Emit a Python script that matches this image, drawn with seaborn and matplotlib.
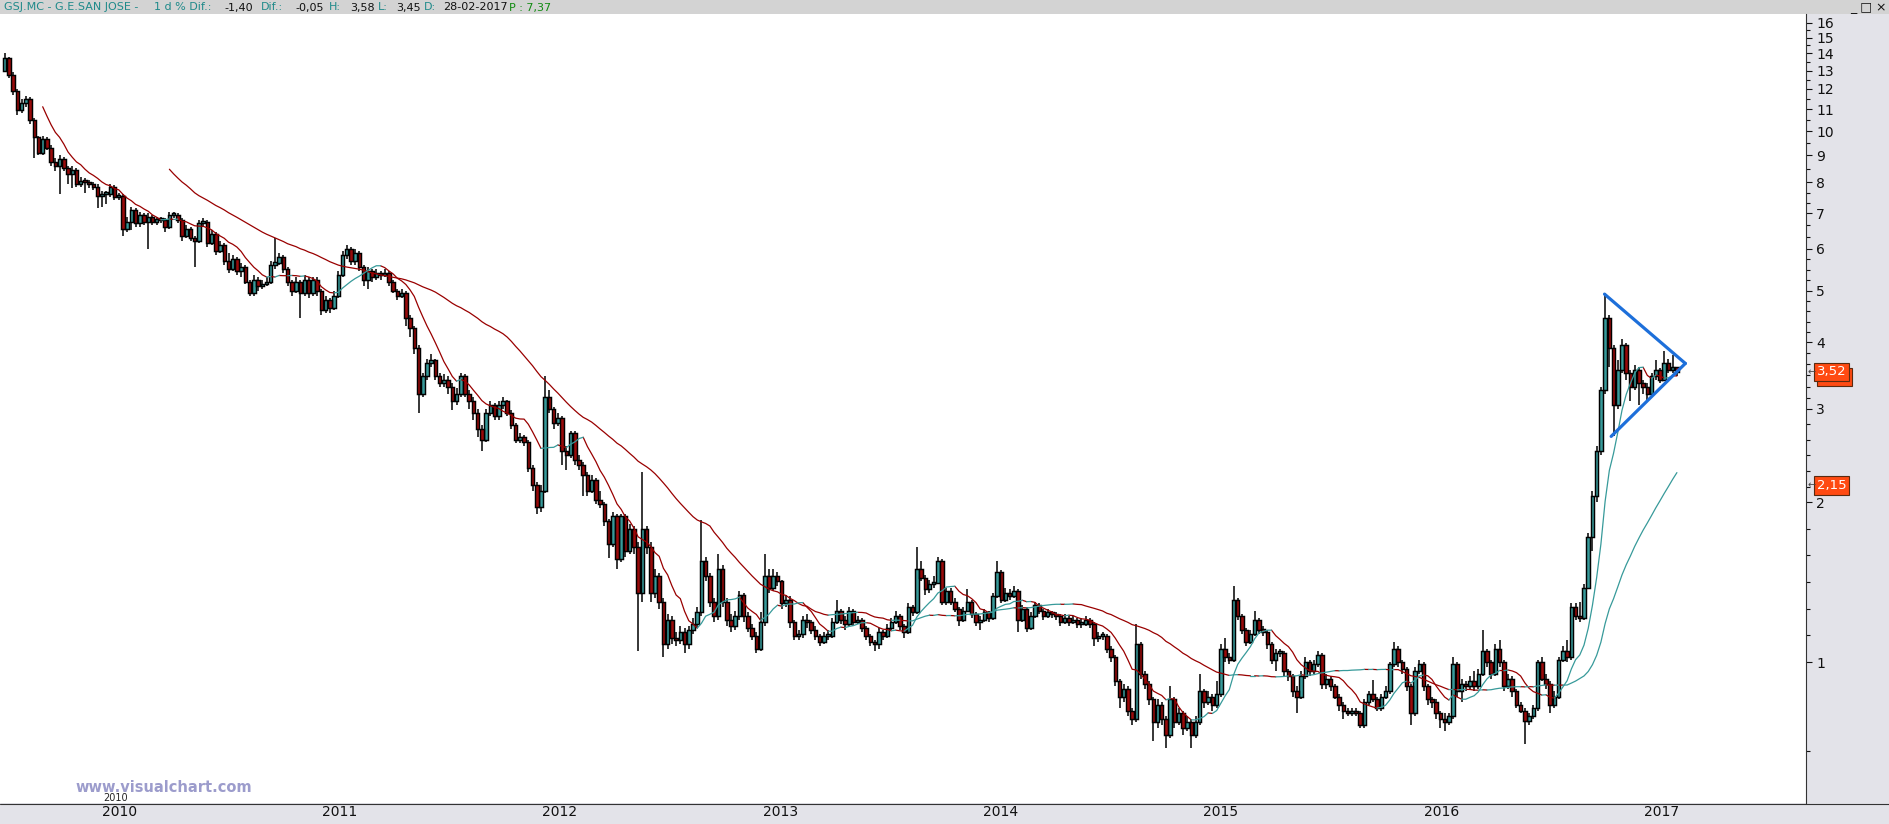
import numpy as np
import pandas as pd
import matplotlib
matplotlib.use("Agg")
import matplotlib.pyplot as plt
from matplotlib.lines import Line2D
from matplotlib.patches import Rectangle
from matplotlib.ticker import FixedLocator, FixedFormatter, NullFormatter
from matplotlib.transforms import blended_transform_factory, offset_copy
import seaborn as sns

# weekly candles of GSJ.MC (open = previous close)
first_open = 13.0
closes = [
    13.7, 12.75, 11.9, 10.95, 11.3, 11.5, 10.5, 9.75, 9.1, 9.65,
    9.3, 8.75, 8.6, 8.85, 8.5, 8.3, 8.45, 7.95, 8.05, 8.0,
    7.95, 7.85, 7.55, 7.6, 7.6, 7.85, 7.5, 7.55, 6.55, 6.75,
    7.1, 6.7, 6.95, 6.75, 6.9, 6.75, 6.8, 6.8, 6.6, 6.95,
    6.95, 6.8, 6.35, 6.55, 6.3, 6.2, 6.7, 6.75, 6.15, 6.4,
    5.95, 6.1, 5.7, 5.5, 5.75, 5.45, 5.55, 5.2, 4.95, 5.25,
    5.1, 5.15, 5.2, 5.6, 5.65, 5.8, 5.5, 5.2, 5.0, 5.2,
    4.95, 5.25, 4.95, 5.25, 5.0, 4.6, 4.8, 4.65, 4.9, 5.35,
    5.85, 6.0, 5.7, 5.9, 5.55, 5.25, 5.45, 5.3, 5.4, 5.35,
    5.4, 5.2, 5.0, 4.9, 4.95, 4.45, 4.25, 3.9, 3.2, 3.45,
    3.65, 3.7, 3.45, 3.35, 3.4, 3.3, 3.1, 3.2, 3.45, 3.2,
    3.1, 2.95, 2.75, 2.62, 2.95, 3.05, 2.9, 3.05, 3.1, 2.95,
    2.8, 2.62, 2.65, 2.6, 2.32, 2.15, 1.96, 2.1, 3.15, 3.0,
    2.82, 2.88, 2.5, 2.45, 2.7, 2.4, 2.35, 2.25, 2.1, 2.2,
    2.02, 1.98, 1.84, 1.67, 1.88, 1.56, 1.88, 1.62, 1.78, 1.65,
    1.35, 1.78, 1.65, 1.35, 1.45, 1.3, 1.08, 1.2, 1.11, 1.1,
    1.14, 1.08, 1.15, 1.18, 1.24, 1.55, 1.45, 1.3, 1.22, 1.5,
    1.3, 1.2, 1.17, 1.22, 1.34, 1.22, 1.16, 1.12, 1.06, 1.19,
    1.45, 1.38, 1.45, 1.42, 1.29, 1.31, 1.19, 1.12, 1.13, 1.2,
    1.19, 1.15, 1.12, 1.09, 1.12, 1.12, 1.19, 1.25, 1.2, 1.18,
    1.25, 1.19, 1.2, 1.16, 1.12, 1.09, 1.08, 1.14, 1.12, 1.16,
    1.19, 1.22, 1.17, 1.14, 1.27, 1.24, 1.5, 1.44, 1.37, 1.4,
    1.41, 1.55, 1.3, 1.36, 1.3, 1.26, 1.2, 1.25, 1.3, 1.23,
    1.19, 1.2, 1.24, 1.21, 1.33, 1.48, 1.31, 1.35, 1.33, 1.36,
    1.2, 1.26, 1.16, 1.22, 1.28, 1.25, 1.22, 1.24, 1.23, 1.22,
    1.19, 1.21, 1.19, 1.2, 1.18, 1.18, 1.2, 1.18, 1.11, 1.12,
    1.12, 1.06, 1.02, 0.92, 0.86, 0.89, 0.81, 0.78, 1.08, 0.95,
    0.91, 0.85, 0.77, 0.83, 0.78, 0.73, 0.85, 0.77, 0.8, 0.75,
    0.77, 0.73, 0.77, 0.88, 0.84, 0.86, 0.83, 0.87, 1.06, 1.02,
    1.01, 1.31, 1.22, 1.15, 1.09, 1.13, 1.2, 1.15, 1.14, 1.08,
    1.01, 1.04, 1.04, 0.96, 0.94, 0.88, 0.86, 0.94, 1.0, 0.96,
    0.99, 1.03, 0.91, 0.93, 0.9, 0.86, 0.83, 0.81, 0.8, 0.81,
    0.8, 0.76, 0.84, 0.87, 0.85, 0.82, 0.86, 0.88, 0.99, 1.06,
    1.0, 0.97, 0.9, 0.8, 0.96, 0.99, 0.9, 0.85, 0.84, 0.8,
    0.78, 0.77, 0.79, 0.99, 0.88, 0.91, 0.9, 0.92, 0.9, 0.95,
    1.05, 1.0, 0.95, 1.06, 1.0, 0.9, 0.93, 0.88, 0.83, 0.81,
    0.775, 0.79, 0.82, 1.0, 0.93, 0.91, 0.83, 0.86, 1.01, 1.05,
    1.02, 1.27, 1.22, 1.21, 1.38, 1.72, 2.05, 2.5, 3.25, 4.45,
    3.9, 3.05, 3.55, 3.95, 3.5, 3.3, 3.55, 3.35, 3.3, 3.2,
    3.45, 3.55, 3.4, 3.65, 3.55, 3.6, 3.52,
]
highs = [
    14.0, 13.8, 12.9, 12.0, 11.5, 11.65, 11.6, 10.6, 9.8, 9.8,
    9.75, 9.4, 8.9, 9.0, 8.95, 8.6, 8.6, 8.5, 8.2, 8.15,
    8.1, 8.0, 7.95, 7.7, 7.7, 7.95, 7.9, 7.65, 7.6, 6.9,
    7.2, 7.15, 7.05, 7.0, 7.0, 6.95, 6.9, 6.9, 6.85, 7.05,
    7.05, 7.0, 6.85, 6.65, 6.6, 6.35, 6.8, 6.85, 6.8, 6.5,
    6.45, 6.2, 6.15, 5.9, 5.85, 5.8, 5.65, 5.6, 5.25, 5.35,
    5.3, 5.25, 5.3, 5.7, 6.3, 5.9, 5.85, 5.55, 5.25, 5.3,
    5.25, 5.35, 5.3, 5.3, 5.3, 5.05, 4.9, 4.85, 5.0, 5.45,
    5.95, 6.1, 6.05, 6.0, 5.95, 5.6, 5.55, 5.5, 5.5, 5.45,
    5.5, 5.45, 5.25, 5.05, 5.05, 5.0, 4.5, 4.3, 3.95, 3.5,
    3.72, 3.8, 3.72, 3.5, 3.48, 3.45, 3.35, 3.28, 3.5, 3.48,
    3.25, 3.15, 3.0, 2.8, 3.0, 3.1, 3.08, 3.1, 3.15, 3.12,
    2.98, 2.82, 2.7, 2.68, 2.62, 2.35, 2.18, 2.15, 3.45, 3.25,
    3.02, 2.95, 2.9, 2.55, 2.72, 2.72, 2.45, 2.38, 2.28, 2.25,
    2.22, 2.1, 2.0, 1.86, 1.92, 1.9, 1.9, 1.9, 1.82, 1.8,
    1.68, 2.28, 1.8, 1.68, 1.5, 1.47, 1.32, 1.23, 1.22, 1.14,
    1.17, 1.16, 1.17, 1.21, 1.27, 1.85, 1.58, 1.47, 1.32, 1.6,
    1.52, 1.32, 1.23, 1.25, 1.36, 1.35, 1.24, 1.18, 1.14, 1.24,
    1.6, 1.5, 1.5, 1.48, 1.43, 1.34, 1.33, 1.2, 1.15, 1.22,
    1.23, 1.2, 1.17, 1.13, 1.14, 1.15, 1.21, 1.31, 1.26, 1.22,
    1.27, 1.26, 1.22, 1.21, 1.17, 1.13, 1.1, 1.16, 1.15, 1.18,
    1.21, 1.25, 1.23, 1.18, 1.29, 1.28, 1.65, 1.55, 1.46, 1.43,
    1.45, 1.58, 1.56, 1.38, 1.38, 1.32, 1.27, 1.27, 1.37, 1.31,
    1.24, 1.22, 1.26, 1.25, 1.35, 1.55, 1.49, 1.38, 1.37, 1.39,
    1.37, 1.28, 1.27, 1.24, 1.3, 1.29, 1.26, 1.26, 1.25, 1.24,
    1.23, 1.23, 1.22, 1.22, 1.21, 1.21, 1.22, 1.21, 1.19, 1.14,
    1.14, 1.13, 1.07, 1.03, 0.93, 0.91, 0.9, 0.82, 1.18, 1.09,
    0.96, 0.92, 0.86, 0.85, 0.84, 0.79, 0.9, 0.86, 0.82, 0.81,
    0.79, 0.78, 0.79, 0.95, 0.89, 0.88, 0.87, 0.92, 1.08, 1.11,
    1.04, 1.39, 1.32, 1.23, 1.16, 1.15, 1.25, 1.21, 1.17, 1.15,
    1.09, 1.06, 1.06, 1.05, 0.97, 0.95, 0.9, 0.96, 1.02, 1.01,
    1.01, 1.05, 1.04, 0.95, 0.94, 0.91, 0.87, 0.84, 0.82, 0.82,
    0.82, 0.81, 0.85, 0.88, 0.925, 0.86, 0.87, 0.9, 1.0, 1.09,
    1.07, 1.01, 0.98, 0.91, 0.98, 1.01, 1.0, 0.91, 0.86, 0.85,
    0.81, 0.8, 0.8, 1.02, 1.0, 0.93, 0.92, 0.94, 0.96, 0.97,
    1.15, 1.06, 1.01, 1.08, 1.1, 1.01, 0.95, 0.94, 0.89, 0.84,
    0.82, 0.8, 0.83, 1.01, 1.02, 0.95, 0.92, 0.88, 1.02, 1.07,
    1.1, 1.29, 1.29, 1.3, 1.4, 1.75, 2.1, 2.55, 3.3, 4.95,
    4.5, 3.95, 3.7, 4.05, 3.98, 3.55, 3.62, 3.6, 3.4, 3.35,
    3.5, 3.7, 3.58, 3.85, 3.72, 3.78, 3.58,
]
lows = [
    12.9, 12.6, 11.7, 10.7, 10.8, 11.1, 10.3, 8.9, 9.0, 9.0,
    9.2, 8.6, 8.4, 7.6, 8.4, 7.95, 7.8, 7.85, 7.85, 7.65,
    7.8, 7.75, 7.15, 7.2, 7.3, 7.5, 7.4, 7.4, 6.35, 6.45,
    6.5, 6.6, 6.6, 6.65, 6.0, 6.65, 6.65, 6.7, 6.45, 6.55,
    6.85, 6.7, 6.2, 6.3, 6.2, 5.55, 6.15, 6.6, 6.05, 6.1,
    5.85, 5.9, 5.6, 5.4, 5.45, 5.35, 5.3, 5.15, 4.9, 4.9,
    5.0, 5.05, 5.1, 5.15, 5.5, 5.6, 5.4, 5.1, 4.9, 4.95,
    4.45, 4.9, 4.85, 4.9, 4.9, 4.5, 4.55, 4.55, 4.6, 4.85,
    5.3, 5.75, 5.6, 5.6, 5.45, 5.1, 5.05, 5.2, 5.25, 5.25,
    5.3, 5.1, 4.95, 4.8, 4.85, 4.3, 4.1, 3.8, 2.95, 3.15,
    3.4, 3.6, 3.4, 3.3, 3.3, 3.2, 2.98, 3.05, 3.15, 3.15,
    3.0, 2.85, 2.65, 2.5, 2.6, 2.9, 2.85, 2.85, 3.0, 2.9,
    2.75, 2.58, 2.58, 2.55, 2.28, 2.1, 1.9, 1.92, 2.08, 2.95,
    2.75, 2.78, 2.35, 2.3, 2.42, 2.35, 2.3, 2.05, 2.05, 2.08,
    1.98, 1.95, 1.8, 1.57, 1.65, 1.5, 1.54, 1.58, 1.6, 1.6,
    1.05, 1.3, 1.6, 1.3, 1.32, 1.26, 1.02, 1.06, 1.08, 1.07,
    1.08, 1.04, 1.06, 1.13, 1.16, 1.22, 1.42, 1.27, 1.19, 1.2,
    1.27, 1.17, 1.14, 1.15, 1.2, 1.19, 1.14, 1.1, 1.04, 1.05,
    1.17, 1.35, 1.36, 1.39, 1.26, 1.27, 1.16, 1.1, 1.1, 1.11,
    1.16, 1.13, 1.1, 1.07, 1.08, 1.1, 1.11, 1.18, 1.18, 1.15,
    1.17, 1.17, 1.18, 1.14, 1.1, 1.07, 1.05, 1.06, 1.1, 1.11,
    1.15, 1.18, 1.15, 1.11, 1.13, 1.22, 1.23, 1.42, 1.34, 1.35,
    1.38, 1.4, 1.28, 1.28, 1.28, 1.24, 1.17, 1.19, 1.24, 1.21,
    1.17, 1.15, 1.19, 1.19, 1.2, 1.32, 1.29, 1.3, 1.31, 1.32,
    1.14, 1.19, 1.14, 1.15, 1.21, 1.23, 1.2, 1.21, 1.21, 1.2,
    1.17, 1.18, 1.17, 1.18, 1.16, 1.16, 1.17, 1.16, 1.07, 1.09,
    1.1, 1.04, 1.0, 0.9, 0.82, 0.84, 0.79, 0.76, 0.77, 0.93,
    0.89, 0.83, 0.71, 0.75, 0.76, 0.69, 0.72, 0.75, 0.76, 0.73,
    0.74, 0.69, 0.72, 0.76, 0.82, 0.83, 0.81, 0.82, 0.86, 1.0,
    0.99, 1.0, 1.2, 1.13, 1.07, 1.08, 1.12, 1.13, 1.12, 1.06,
    0.99, 0.96, 1.02, 0.94, 0.92, 0.86, 0.8, 0.85, 0.93, 0.94,
    0.95, 0.98, 0.89, 0.89, 0.88, 0.85, 0.81, 0.78, 0.79, 0.79,
    0.79, 0.75, 0.75, 0.83, 0.84, 0.81, 0.81, 0.85, 0.87, 0.98,
    0.98, 0.95, 0.88, 0.76, 0.79, 0.95, 0.88, 0.83, 0.82, 0.78,
    0.75, 0.74, 0.76, 0.78, 0.86, 0.84, 0.88, 0.89, 0.88, 0.89,
    0.94, 0.98, 0.93, 0.94, 0.98, 0.88, 0.89, 0.86, 0.82, 0.8,
    0.7, 0.76, 0.78, 0.81, 0.92, 0.89, 0.8, 0.82, 0.85, 1.0,
    1.0, 1.01, 1.2, 1.19, 1.2, 1.37, 1.62, 2.0, 2.45, 3.2,
    3.6, 2.66, 3.0, 3.5, 3.4, 3.1, 3.25, 3.05, 3.2, 3.1,
    3.15, 3.4, 3.35, 3.38, 3.5, 3.5, 3.45,
]

years = [2010, 2011, 2012, 2013, 2014, 2015, 2016, 2017]
y_major = list(range(1, 17))
tag_values = [3.52, 2.15]
tag_texts = ["3,52", "2,15"]
# triangle drawn on the chart: top, apex, bottom
tri_dates = ["2016-10-30", "2017-03-13", "2016-11-10"]
tri_prices = [4.93, 3.65, 2.66]

n = min(len(closes), len(highs), len(lows))
closes = np.array(closes[:n])
highs = np.array(highs[:n])
lows = np.array(lows[:n])
dates = pd.date_range("2009-07-27", periods=n, freq="7D")
opens = np.concatenate([[first_open], closes[:-1]])

teal = "#379a9a"
red = "#990a0a"
panel = "#e3e3e9"
header = "#d3d3d3"
txt_teal = "#1f8a8a"

sns.set_theme(style="white")
plt.rcParams["font.family"] = ["Liberation Sans Narrow", "DejaVu Sans"]

W, H = 1889, 824
fig = plt.figure(figsize=(W / 100, H / 100), dpi=100)
fig.patch.set_facecolor(panel)


def fx(x):
    return x / W


def fy(y):
    return 1 - y / H


ax = fig.add_axes([0, fy(803), fx(1806), (803 - 14) / H])
ax.set_facecolor("white")
ax.set_yscale("log")

# candles
up = closes >= opens
lo = np.minimum(opens, closes)
hi = np.maximum(opens, closes)
hgt = np.maximum(hi - lo, lo * 0.01)
ax.vlines(dates, lows, highs, colors="black", lw=1.1, zorder=2)
ax.bar(dates[up], hgt[up], bottom=lo[up], width=5.8, color=teal,
       edgecolor="black", linewidth=1.05, zorder=3)
ax.bar(dates[~up], hgt[~up], bottom=lo[~up], width=5.8, color=red,
       edgecolor="black", linewidth=1.05, zorder=3)

# moving averages, coloured by direction
ma_short = pd.Series(closes).rolling(10).mean().to_numpy()
ma_long = pd.Series(closes).rolling(40).mean().to_numpy()


def ma_rows(vals, name):
    rows = []
    seg, prev = 0, None
    idx = np.where(~np.isnan(vals))[0]
    for a, b in zip(idx[:-1], idx[1:]):
        d = "up" if vals[b] >= vals[a] else "down"
        if d != prev:
            seg += 1
            rows.append((dates[a], vals[a], f"{name}{seg}", d))
        rows.append((dates[b], vals[b], f"{name}{seg}", d))
        prev = d
    return rows


ma_df = pd.DataFrame(ma_rows(ma_short, "s") + ma_rows(ma_long, "l"),
                     columns=["date", "value", "seg", "dir"])
sns.lineplot(data=ma_df, x="date", y="value", hue="dir", units="seg",
             estimator=None, palette={"up": teal, "down": "#990000"},
             linewidth=0.9, legend=False, ax=ax, zorder=4)

# triangle
td = pd.to_datetime(tri_dates)
ax.plot([td[0], td[1]], [tri_prices[0], tri_prices[1]], color="#1d6fda",
        lw=2.3, solid_capstyle="round", zorder=6)
ax.plot([td[2], td[1]], [tri_prices[2], tri_prices[1]], color="#1d6fda",
        lw=2.3, solid_capstyle="round", zorder=6)

ax.set_xlabel("")
ax.set_ylabel("")
ax.set_xlim(pd.Timestamp("2009-07-19 05:00"), pd.Timestamp("2017-09-29"))
ax.set_ylim(0.5426, 16.61)

# right price scale
minor = []
divs = {1: 6, 2: 6, 3: 6, 4: 5, 5: 4, 6: 3, 7: 3}
for a, b in zip(y_major[:-1], y_major[1:]):
    k = divs.get(a, 2)
    minor += [a * (b / a) ** (j / k) for j in range(1, k)]
minor.append(0.68)
ax.yaxis.set_major_locator(FixedLocator(y_major))
ax.yaxis.set_major_formatter(FixedFormatter([str(v) for v in y_major]))
ax.yaxis.set_minor_locator(FixedLocator(minor))
ax.yaxis.set_minor_formatter(NullFormatter())
ax.yaxis.tick_right()
ax.tick_params(axis="y", which="major", direction="out", length=4.3,
               width=0.8, pad=3, labelsize=10, colors="#111111")
ax.tick_params(axis="y", which="minor", direction="out", length=3.2,
               width=0.8, colors="#111111")

# time axis
year_dates = [pd.Timestamp(f"{y}-01-01") for y in years]
ax.set_xticks(year_dates)
ax.tick_params(axis="x", which="major", direction="out", length=6.5,
               width=0.8, colors="#111111", labelbottom=False)
xt = blended_transform_factory(ax.transData, ax.transAxes)
for y, d in zip(years, year_dates):
    ax.text(d + pd.Timedelta(days=3), -0.003, str(y), transform=xt,
            ha="left", va="top", fontsize=10, color="#111111")

for s in ["left", "top", "bottom"]:
    ax.spines[s].set_visible(False)
ax.spines["right"].set_color("#333333")
ax.spines["right"].set_linewidth(0.8)
fig.add_artist(Line2D([0, 1], [fy(803.5), fy(803.5)], transform=fig.transFigure,
                      color="#333333", lw=0.8))

# header bar
fig.add_artist(Rectangle((0, fy(14)), 1, 14 / H, transform=fig.transFigure,
                         fc=header, ec="none", zorder=0))
hdr = [
    (4, "GSJ.MC - G.E.SAN JOSE -", txt_teal),
    (154, "1 d % Dif.:", txt_teal),
    (224, "-1,40", "#111111"),
    (261, "Dif.:", txt_teal),
    (295, "-0,05", "#111111"),
    (329, "H:", txt_teal),
    (350, f"{highs[-1]:.2f}".replace(".", ","), "#111111"),
    (378, "L:", txt_teal),
    (396, f"{lows[-1]:.2f}".replace(".", ","), "#111111"),
    (424, "D:", txt_teal),
    (443, "28-02-2017", "#111111"),
    (509, "P : 7,37", "#108a10"),
]
for x, s, c in hdr:
    fig.text(fx(x), fy(7.5), s, color=c, fontsize=8, ha="left", va="center")
fig.text(fx(1850), fy(7), "_ \u25a1 \u00d7", fontsize=9, color="#111111",
         ha="left", va="center", family=["DejaVu Sans"])

# watermark and the half hidden label under it
fig.text(fx(103), fy(798), "2010", fontsize=7, color="#222222",
         ha="left", va="center")
fig.text(fx(75), fy(788), "www.visualchart.com", fontsize=10.5,
         fontweight="bold", color="#9c9ccc", ha="left", va="center",
         family=["DejaVu Sans"])

# price tags on the scale
tt = blended_transform_factory(fig.transFigure, ax.transData)
shadow = offset_copy(tt, fig=fig, x=3, y=-5, units="dots")
box = dict(boxstyle="square,pad=0.2", fc="#ff4a12", ec="#5a2a10", lw=0.8)
ax.text(fx(1831.5), tag_values[0], tag_texts[0], transform=shadow,
        ha="center", va="center", fontsize=9.5, color="white", bbox=box,
        clip_on=False, zorder=7)
for v, s in zip(tag_values, tag_texts):
    ax.text(fx(1831.5), v, s, transform=tt, ha="center", va="center",
            fontsize=9.5, color="white", bbox=box, clip_on=False, zorder=8)
    ax.text(fx(1808), v, "\u2190", transform=tt, ha="left", va="center",
            fontsize=7, color="#444444", clip_on=False, zorder=8,
            family=["DejaVu Sans"])

fig.savefig("out.png", dpi=100, facecolor=fig.get_facecolor())
